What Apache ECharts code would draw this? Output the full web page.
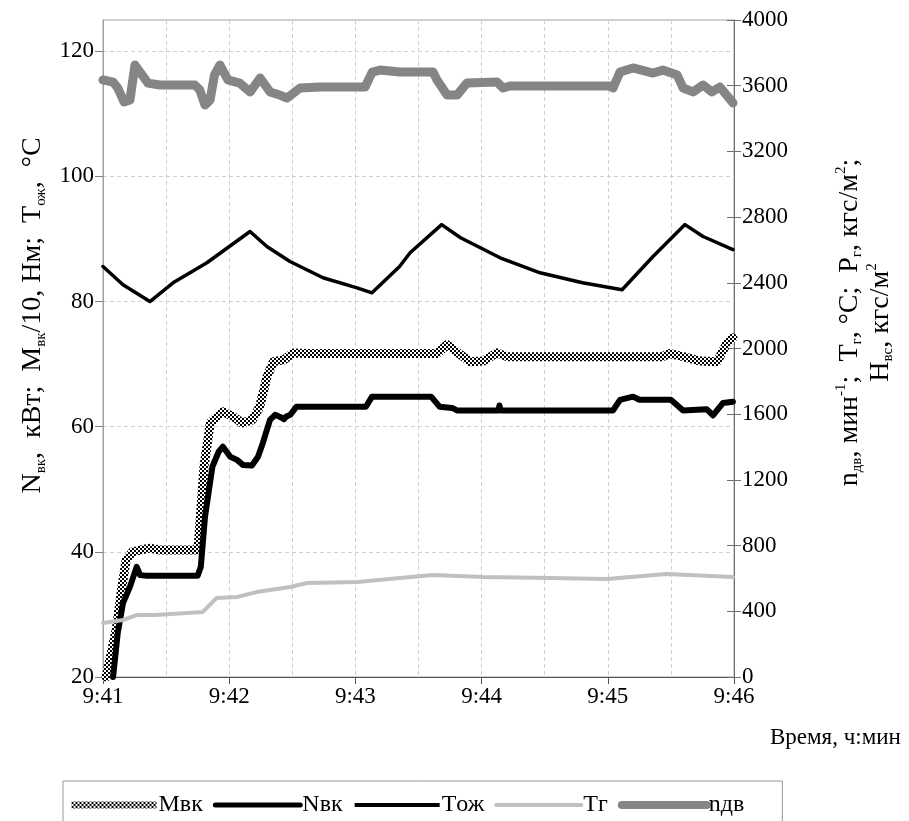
<!DOCTYPE html>
<html>
<head>
<meta charset="utf-8">
<script src="https://cdn.jsdelivr.net/npm/echarts@6/dist/echarts.min.js"></script>
<style>
html,body{margin:0;padding:0;background:#fff;}
#chart{width:909px;height:821px;}
</style>
</head>
<body>
<div id="chart"></div>
<script>
// время в секундах от 9:41:00
var timeTicks = [0, 60, 120, 180, 240, 300];
var timeLabels = ['9:41', '9:42', '9:43', '9:44', '9:45', '9:46'];
var leftTicks = [20, 40, 60, 80, 100, 120];
var rightTicks = [0, 400, 800, 1200, 1600, 2000, 2400, 2800, 3200, 3600, 4000];
var seriesNames = ['Mвк', 'Nвк', 'Tож', 'Tг', 'nдв'];

// Mвк/10 (левая ось)
var mvk = [[1.5,20],[6.5,28],[9,34.4],[11,38.7],[14,40],[22,40.6],[27,40.3],[45,40.3],[45.5,41.9],[48,53.6],[51,60.6],
    [57,62.4],[62,61.6],[66,60.6],[71,61.1],[74.5,63.2],[78,68],[81,70.4],[86,70.7],[90.5,71.8],[97,71.7],[141,71.7],
    [158.8,71.7],[163.6,73.1],[168.3,71.9],[174.5,70.4],[180.7,70.5],[187.3,71.8],[192,71.2],[266,71.2],[269.5,71.7],
    [275.8,71.2],[284,70.5],[292,70.4],[296.7,73.4],[299.5,74.2]];
// Nвк (левая ось)
var nvk = [[4.8,20],[7,27],[9.5,31.8],[12.8,34.4],[16,37.6],[17.6,36.3],[20,36.2],[45,36.2],[46.5,37.6],[48.5,45.6],
    [52,53.6],[55,56],[57,56.8],[60.5,55.2],[63.7,54.7],[66.5,53.9],[70.8,53.8],[73.7,55.2],[76,57.4],[79.4,61.1],
    [81.8,61.9],[84,61.6],[86,61.2],[87,61.6],[89,61.9],[92,63.2],[125,63.2],[127.9,64.8],[141,64.8],[156,64.8],[160,63.2],
    [166,63],[168.3,62.6],[188,62.6],[188.5,63.4],[189,62.6],[242.5,62.6],[245.8,64.3],[252,64.8],[255,64.3],[270,64.3],
    [275.8,62.6],[287,62.8],[290,61.8],[294.8,63.8],[299.5,64]];
// Tож (левая ось)
var toj = [[0,85.6],[9.5,82.7],[22.3,80],[33.3,83],[49.4,86.2],[69.9,91.2],[77.9,88.8],[88.9,86.4],[104.6,83.8],
    [120.8,82.2],[127.9,81.4],[141,85.6],[146,87.8],[161,92.3],[170,90.2],[188.8,87],[207.8,84.6],[228,83],[246.8,81.9],
    [261.5,87.2],[276.7,92.3],[285.3,90.4],[299.5,88.3]];
// Tг (правая ось)
var tg = [[0,329],[9.5,347],[16,377],[25,377],[47.5,396],[54,481],[63.7,487],[73,517],[89,548],[97,572],[121,578],
    [141,603],[157,621],[180.7,609],[212.5,603],[239.6,597],[268,627],[299.5,609]];
// nдв (правая ось)
var ndv = [[0,3635],[4.8,3622],[7,3586],[10,3501],[12.8,3513],[15.2,3726],[17.6,3683],[21.4,3616],[27,3604],[43.7,3604],
    [46,3574],[48.5,3483],[50.9,3513],[53,3665],[55.6,3726],[59.4,3635],[65,3616],[70,3562],[74.7,3647],[79.4,3562],
    [84,3543],[87.5,3525],[93.7,3586],[103,3592],[124.6,3592],[128,3683],[131.7,3695],[141.2,3683],[156.9,3683],
    [158.8,3635],[163.6,3543],[168.3,3543],[173,3616],[187.3,3622],[190.2,3586],[193.5,3598],[241,3598],[242.5,3586],
    [245.8,3683],[252,3708],[261.5,3677],[266.2,3695],[273,3665],[275.8,3586],[280.5,3562],[285.3,3604],[289.5,3562],
    [293.3,3592],[299.5,3495]];

var FONT = 'Liberation Serif';

function makeChecker(){
    var c = document.createElement('canvas');
    c.width = 4; c.height = 4;
    var ctx = c.getContext('2d');
    ctx.fillStyle = '#fff';
    ctx.fillRect(0, 0, 4, 4);
    ctx.fillStyle = '#000';
    ctx.fillRect(0, 0, 2, 2);
    ctx.fillRect(2, 2, 2, 2);
    return c;
}
var checker = {image: makeChecker(), repeat: 'repeat'};

var rich = {
    t: {fontFamily: FONT, fontSize: 28, color: '#000', lineHeight: 31, verticalAlign: 'middle'},
    s: {fontFamily: FONT, fontSize: 15, color: '#000', lineHeight: 13, verticalAlign: 'bottom'},
    p: {fontFamily: FONT, fontSize: 15, color: '#000', lineHeight: 13, verticalAlign: 'top'}
};

var myChart = echarts.init(document.getElementById('chart'));

function lineSeries(name, data, axis, color, width){
    return {
        name: name,
        type: 'line',
        yAxisIndex: axis,
        data: data,
        symbol: 'none',
        smooth: false,
        clip: true,
        silent: true,
        animation: false,
        itemStyle: {color: color, opacity: 0},
        lineStyle: {color: color, width: width, cap: 'round', join: 'round'}
    };
}

var option = {
    backgroundColor: '#fff',
    animation: false,
    grid: {
        left: 103, right: 175, top: 20, bottom: 144,
        show: true, borderColor: '#a0a0a0', borderWidth: 1,
        containLabel: false, outerBoundsMode: 'none'
    },
    legend: {
        left: 63, top: 781,
        orient: 'horizontal',
        padding: [12, 38, 20, 5],
        borderColor: '#999', borderWidth: 1,
        itemWidth: 85, itemHeight: 14, itemGap: 10,
        selectedMode: false,
        itemStyle: {opacity: 0},
        textStyle: {fontFamily: FONT, fontSize: 24, color: '#000', padding: [4, 0, 0, -3]},
        data: [
            {name: seriesNames[0], lineStyle: {width: 7, cap: 'butt'}},
            {name: seriesNames[1], lineStyle: {width: 5, cap: 'round'}},
            {name: seriesNames[2], lineStyle: {width: 4, cap: 'butt'}},
            {name: seriesNames[3], lineStyle: {width: 4, cap: 'round'}},
            {name: seriesNames[4], lineStyle: {width: 8, cap: 'round'}}
        ]
    },
    graphic: [{
        type: 'text',
        left: 770, top: 726,
        silent: true,
        style: {text: 'Время, ч:мин', font: '23px "Liberation Serif"', fill: '#000'}
    }],
    xAxis: {
        type: 'value',
        min: 0, max: 300, interval: 60,
        axisLine: {lineStyle: {color: '#555', width: 1}},
        axisTick: {show: true, inside: false, length: 7, lineStyle: {color: '#555'}},
        axisLabel: {
            fontFamily: FONT, fontSize: 23, color: '#000', margin: 8,
            customValues: timeTicks,
            formatter: function(v){ return timeLabels[timeTicks.indexOf(v)]; }
        },
        splitLine: {show: true, lineStyle: {color: '#d0d0d0', type: [4, 3], width: 1}},
        minorTick: {show: false, splitNumber: 2},
        minorSplitLine: {show: true, lineStyle: {color: '#d0d0d0', type: [4, 3], width: 1}}
    },
    yAxis: [
        {
            type: 'value',
            position: 'left',
            min: 20, max: 125, interval: 20,
            name: '{t|N}{s|вк}{t|,  кВт;  M}{s|вк}{t|/10, Нм;  T}{s|ож}{t|,  °C}',
            nameLocation: 'middle',
            nameRotate: 90,
            nameGap: 53,
            nameTextStyle: {rich: rich, padding: [0, 0, 0, 66]},
            axisLine: {show: true, lineStyle: {color: '#a0a0a0'}},
            axisTick: {show: true, inside: false, length: 8, customValues: leftTicks, lineStyle: {color: '#808080'}},
            axisLabel: {fontFamily: FONT, fontSize: 23, color: '#000', margin: 9, customValues: leftTicks},
            splitLine: {show: true, lineStyle: {color: '#d0d0d0', type: [4, 3], width: 1}}
        },
        {
            type: 'value',
            position: 'right',
            min: 0, max: 4000, interval: 400,
            name: '{t|n}{s|дв}{t|, мин}{p|-1}{t|;  T}{s|г}{t|, °C;  P}{s|г}{t|, кгс/м}{p|2}{t|;}\n{t|H}{s|вс}{t|, кгс/м}{p|2}',
            nameLocation: 'middle',
            nameRotate: 90,
            nameGap: 100,
            nameTextStyle: {rich: rich, align: 'center', padding: [0, 0, 0, 52]},
            axisLine: {show: true, lineStyle: {color: '#707070'}},
            axisTick: {show: true, inside: false, length: 7, customValues: rightTicks, lineStyle: {color: '#707070'}},
            axisLabel: {
                fontFamily: FONT, fontSize: 23, color: '#000', margin: 8, customValues: rightTicks,
                formatter: function(v){ return String(v); }
            },
            splitLine: {show: false}
        },
        {
            // внутренние засечки правой оси
            type: 'value',
            position: 'right',
            min: 0, max: 4000, interval: 400,
            axisLine: {show: false},
            axisTick: {show: true, inside: true, length: 7, customValues: rightTicks, lineStyle: {color: '#707070'}},
            axisLabel: {show: false},
            splitLine: {show: false}
        }
    ],
    series: [
        lineSeries(seriesNames[0], mvk, 0, checker, 9),
        lineSeries(seriesNames[1], nvk, 0, '#000', 6),
        lineSeries(seriesNames[2], toj, 0, '#000', 3.5),
        lineSeries(seriesNames[3], tg, 1, '#c0c0c0', 4),
        lineSeries(seriesNames[4], ndv, 1, '#858585', 9)
    ]
};
myChart.setOption(option);
</script>
</body>
</html>
